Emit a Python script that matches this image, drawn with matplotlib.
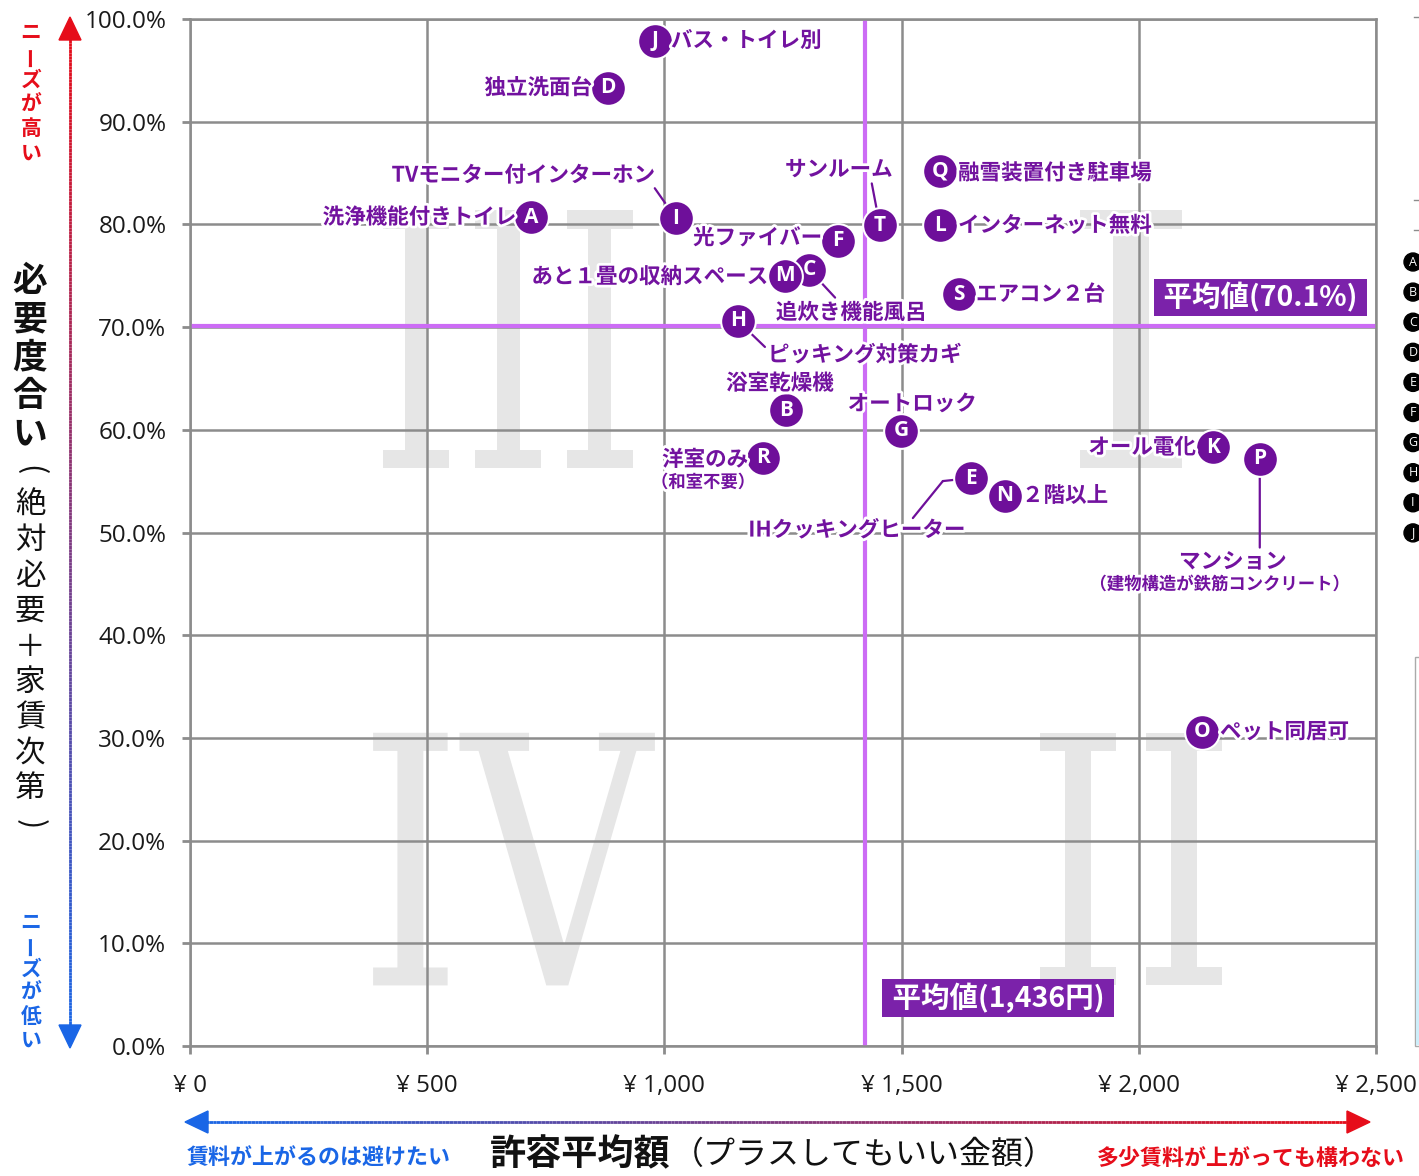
import numpy as np
import matplotlib
matplotlib.use('Agg')
import matplotlib.pyplot as plt
import matplotlib.patheffects as pe
import matplotlib.transforms as mtransforms
from matplotlib.collections import LineCollection
from matplotlib.patches import Polygon, PathPatch, Rectangle, Circle
from matplotlib.textpath import TextPath
from matplotlib.font_manager import FontProperties

plt.rcParams['font.family'] = ['Noto Sans CJK JP', 'DejaVu Sans']

# ---- data ----
codes = ['A', 'B', 'C', 'D', 'E', 'F', 'G', 'H', 'I', 'J',
         'K', 'L', 'M', 'N', 'O', 'P', 'Q', 'R', 'S', 'T']
names = ['洗浄機能付きトイレ', '浴室乾燥機', '追炊き機能風呂', '独立洗面台',
         'IHクッキングヒーター', '光ファイバー', 'オートロック', 'ピッキング対策カギ',
         'TVモニター付インターホン', 'バス・トイレ別', 'オール電化', 'インターネット無料',
         'あと１畳の収納スペース', '２階以上', 'ペット同居可', 'マンション',
         '融雪装置付き駐車場', '洋室のみ', 'エアコン２台', 'サンルーム']
sub_names = {'R': '（和室不要）', 'P': '（建物構造が鉄筋コンクリート）'}
price = [719, 1256, 1305, 881, 1646, 1366, 1499, 1155, 1024, 980,
         2156, 1581, 1254, 1718, 2133, 2255, 1581, 1208, 1621, 1454]
need = [80.7, 61.9, 75.6, 93.3, 55.3, 78.4, 59.9, 70.6, 80.6, 97.9,
        58.3, 79.9, 75.0, 53.6, 30.6, 57.2, 85.2, 57.3, 73.2, 79.9]
avg_price_line = 1422
avg_price_text = '平均値(1,436円)'
avg_need = 70.1
avg_need_text = '平均値(70.1%)'
x_ticks = [0, 500, 1000, 1500, 2000, 2500]
y_ticks = [0, 10, 20, 30, 40, 50, 60, 70, 80, 90, 100]

# ---- styles / layout ----
PURPLE = '#6e0f9a'
LABEL = '#72129f'
AVG = '#cc6cf5'
BOXC = '#7b22aa'
GRID = '#8c8c8c'
RED = np.array([0.90, 0.05, 0.10])
BLUE = np.array([0.10, 0.40, 0.90])

# label offsets in pixels from the point: (dx, dy, ha)
place = {
    'A': (-15, 0, 'right'), 'B': (-6, 27, 'center'), 'C': (42, -43, 'center'),
    'D': (-16, 0, 'right'), 'E': (-114, -52, 'center'), 'F': (-16, 3, 'right'),
    'G': (11, 27, 'center'), 'H': (30, -34, 'left'), 'I': (-21, 43, 'right'),
    'J': (16, 0, 'left'), 'K': (-17, 0, 'right'), 'L': (18, 0, 'left'),
    'M': (-17, -1, 'right'), 'N': (17, 0, 'left'), 'O': (18, 0, 'left'),
    'P': (-27, -103, 'center'), 'Q': (18, -2, 'left'), 'R': (-15, -2, 'right'),
    'S': (17, 0, 'left'), 'T': (-41, 56, 'center'),
}
sub_place = {'R': (-60, -25), 'P': (-40, -126)}
leaders = {
    'I': [(0, 0), (-21, 30)],
    'T': [(0, 0), (-8, 42)],
    'C': [(0, 0), (26, -28)],
    'H': [(0, 0), (27, -26)],
    'E': [(0, 0), (-28, -3), (-58, -40)],
    'P': [(0, 0), (0, -89)],
}

W, H = 1419, 1176
fig = plt.figure(figsize=(W / 100, H / 100), dpi=100)
fig.patch.set_facecolor('white')

# overlay axes in pixel coordinates for decorations outside the plot
ov = fig.add_axes([0, 0, 1, 1], zorder=0)
ov.set_xlim(0, W)
ov.set_ylim(H, 0)
ov.axis('off')

ax = fig.add_axes([190 / W, 130 / H, 1186 / W, 1027 / H], zorder=1)
ax.set_facecolor('white')
ax.set_xlim(0, 2500)
ax.set_ylim(0, 100)
ax.set_xticks(x_ticks)
ax.set_yticks(y_ticks)
ax.set_xticklabels([f'¥ {t:,}' for t in x_ticks], family='Open Sans', fontsize=17.5, color='#1a1a1a')
ax.set_yticklabels([f'{t:.1f}%' for t in y_ticks], family='Open Sans', fontsize=17.5, color='#1a1a1a')
ax.tick_params(axis='x', length=6, width=2, color=GRID, pad=14)
ax.tick_params(axis='y', length=6, width=2, color=GRID, pad=11)
ax.grid(True, color=GRID, linewidth=1.8, zorder=1)
ax.set_axisbelow(True)
for sp in ax.spines.values():
    sp.set_color(GRID)
    sp.set_linewidth(1.8)

# big roman numerals (quadrant marks) under the grid
def numeral(s, x0, x1, y0, y1):
    tp = TextPath((0, 0), s, size=100, prop=FontProperties(family='DejaVu Serif'))
    ext = tp.get_extents()
    tr = (mtransforms.Affine2D().translate(-ext.x0, -ext.y0)
          .scale((x1 - x0) / ext.width, (y1 - y0) / ext.height)
          .translate(x0, y0) + ax.transData)
    ax.add_patch(PathPatch(tp, transform=tr, fc='#e6e6e6', ec='none', zorder=0.5))

numeral('III', 407, 934, 56.3, 81.4)
numeral('I', 1876, 2091, 56.3, 81.4)
numeral('IV', 386, 980, 5.9, 30.5)
numeral('II', 1792, 2175, 5.9, 30.5)

# average lines
ax.axvline(avg_price_line, color=AVG, lw=3, zorder=2)
ax.axhline(avg_need, color=AVG, lw=3, zorder=2)
ax.annotate(' ' + avg_need_text + ' ', xy=(1, avg_need), xycoords=('axes fraction', 'data'),
            xytext=(-12, 29), textcoords='offset pixels', ha='right', va='center',
            fontsize=20.5, fontweight='bold', color='white', zorder=9,
            bbox=dict(boxstyle='square,pad=0.12', fc=BOXC, ec='none'))
ax.annotate(' ' + avg_price_text + ' ', xy=(avg_price_line, 0),
            xytext=(21, 48), textcoords='offset pixels', ha='left', va='center',
            fontsize=20.5, fontweight='bold', color='white', zorder=9,
            bbox=dict(boxstyle='square,pad=0.12', fc=BOXC, ec='none'))

# leader lines
for c, pts in leaders.items():
    i = codes.index(c)
    for (ax0, ay0), (ax1, ay1) in zip(pts[:-1], pts[1:]):
        base = mtransforms.offset_copy(ax.transData, fig=fig, x=ax0, y=ay0, units='dots')
        ax.annotate('', xy=(price[i], need[i]), xycoords=base,
                    xytext=(ax1 - ax0, ay1 - ay0), textcoords='offset pixels',
                    arrowprops=dict(arrowstyle='-', color=PURPLE, lw=1.6,
                                    shrinkA=0, shrinkB=0), zorder=3)

# points
ax.scatter(price, need, s=25 ** 2, c=PURPLE, edgecolors='white', linewidths=1.5, zorder=5)
for c, x, y in zip(codes, price, need):
    ax.text(x, y, c, ha='center', va='center', family='Open Sans', fontweight='bold',
            fontsize=15, color='white', zorder=6)

stroke = [pe.withStroke(linewidth=4, foreground='white')]
for c, n, x, y in zip(codes, names, price, need):
    dx, dy, ha = place[c]
    ax.annotate(n, xy=(x, y), xytext=(dx, dy), textcoords='offset pixels',
                ha=ha, va='center', fontsize=15.5, fontweight='bold', color=LABEL,
                path_effects=stroke, zorder=7)
for c, s in sub_names.items():
    i = codes.index(c)
    dx, dy = sub_place[c]
    ax.annotate(s, xy=(price[i], need[i]), xytext=(dx, dy), textcoords='offset pixels',
                ha='center', va='center', fontsize=12.5, fontweight='bold', color=LABEL,
                path_effects=stroke, zorder=7)

# ---- gradient arrows ----
def grad_line(p0, p1, c0, c1, n=300):
    t = np.linspace(0, 1, n + 1)
    xs = p0[0] + (p1[0] - p0[0]) * t
    ys = p0[1] + (p1[1] - p0[1]) * t
    segs = [[(xs[k], ys[k]), (xs[k + 1], ys[k + 1])] for k in range(n)]
    cols = [tuple(c0 + (c1 - c0) * (k + 0.5) / n) for k in range(n)]
    ov.add_collection(LineCollection(segs, colors=cols, linewidths=2))

grad_line((70, 36), (70, 1028), RED, BLUE)
ov.add_patch(Polygon([(70, 17), (59, 40), (81, 40)], color=tuple(RED)))
ov.add_patch(Polygon([(70, 1048), (59, 1025), (81, 1025)], color=tuple(BLUE)))
grad_line((205, 1122), (1350, 1122), BLUE, RED)
ov.add_patch(Polygon([(185, 1122), (208, 1111), (208, 1133)], color=tuple(BLUE)))
ov.add_patch(Polygon([(1370, 1122), (1347, 1111), (1347, 1133)], color=tuple(RED)))

# vertical stacked texts
def vtext(chars, x, y0, step, **kw):
    for k, ch in enumerate(chars):
        rot = 0
        if ch == 'ー':
            rot = 90
        elif ch in '()':
            rot = -90
        ov.text(x, y0 + k * step, ch, ha='center', va='center', rotation=rot, **kw)

vtext('ニーズが高い', 31, 32, 24.2, fontsize=15, fontweight='bold', color=tuple(RED))
vtext('ニーズが低い', 31, 922, 23.6, fontsize=15, fontweight='bold', color=tuple(BLUE))
vtext('必要度合い', 30, 280, 38.5, fontsize=25, fontweight='bold', color='#111111')
vtext('(絶対必要＋家賃次第)', 30, 470, 35.4, fontsize=22, color='#111111')

ov.text(187, 1158, '賃料が上がるのは避けたい', ha='left', va='center', fontsize=15.8,
        fontweight='bold', color=tuple(BLUE))
ov.text(1405, 1158, '多少賃料が上がっても構わない', ha='right', va='center', fontsize=15.8,
        fontweight='bold', color=tuple(RED))
ov.text(490, 1155, '許容平均額', ha='left', va='center', fontsize=26,
        fontweight='bold', color='#111111')
ov.text(672, 1155, '（プラスしてもいい金額）', ha='left', va='center', fontsize=23,
        color='#111111')

# partially visible side panel on the right edge
for k, c in enumerate(codes[:10]):
    yy = 262 + k * 30.1
    ov.add_patch(Circle((1413, yy), 9, color='black'))
    ov.text(1413, yy, c, ha='center', va='center', family='Open Sans',
            fontsize=9, color='white')
for yy in (17, 200, 230):
    ov.plot([1414, 1419], [yy, yy], color=GRID, lw=1)
ov.add_patch(Rectangle((1415, 657), 10, 389, fc='white', ec='#aaaaaa', lw=1))
ov.add_patch(Rectangle((1416, 850), 10, 195, fc='#cdeefa', ec='none'))

fig.savefig('out.png', dpi=100)
